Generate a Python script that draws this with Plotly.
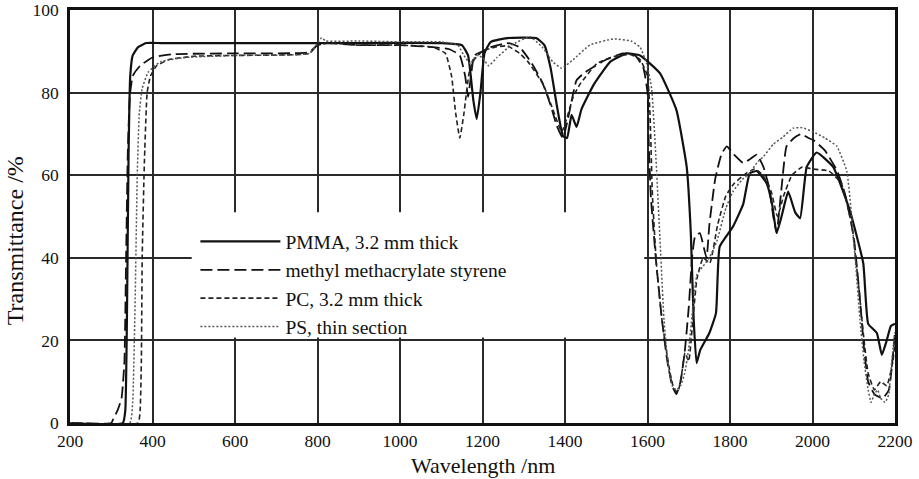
import plotly.graph_objects as go

# ---- data ----
pmma_x = [200, 328, 334, 338, 342, 346, 352, 365, 385, 420, 500, 800, 1100, 1150, 1165, 1178, 1186, 1195, 1205, 1220, 1260, 1330,
          1350, 1365, 1380, 1395, 1405, 1416, 1428, 1440, 1470, 1510, 1550, 1582, 1630, 1670, 1695, 1705, 1712, 1719, 1728,
          1750, 1766, 1775, 1807, 1832, 1848, 1865, 1889, 1902, 1913, 1925, 1941, 1958, 1970, 1986, 2010, 2050, 2090, 2123,
          2135, 2156, 2168, 2180, 2190, 2200]
pmma_y = [0, 0, 3, 25, 65, 84, 89, 91, 92, 92, 92, 92, 92, 91.5, 89, 78, 73.6, 80, 89.6, 92.3, 93.2, 93.2,
          91.5, 86, 77, 69.5, 69, 74.6, 71.7, 76, 82, 87.5, 89.5, 89, 84.7, 75.8, 62, 46, 25, 14.5, 17.7,
          21.8, 26.6, 42.7, 47.5, 53, 60.5, 61, 58, 53, 46, 50, 56, 51, 49.6, 62, 65.5, 62, 51.6, 38.7,
          24, 21.8, 16.5, 20, 23.5, 24]

mms_x = [200, 300, 305, 315, 325, 332, 336, 340, 345, 352, 370, 400, 450, 600, 780, 800, 820, 900, 1000, 1080, 1120, 1145,
         1158, 1165, 1172, 1180, 1200, 1220, 1260, 1290, 1320, 1345, 1365, 1380, 1395, 1410, 1428, 1450, 1500, 1540, 1570,
         1590, 1600, 1603, 1608, 1620, 1635, 1648, 1660, 1670, 1680, 1690, 1700, 1708, 1715, 1727, 1743, 1750, 1764, 1779,
         1792, 1810, 1832, 1850, 1865, 1881, 1895, 1905, 1913, 1925, 1937, 1955, 1973, 1990, 2002, 2030, 2060, 2080, 2100,
         2115, 2125, 2135, 2150, 2170, 2185, 2200]
mms_y = [0, 0, 1, 3, 6, 15, 40, 65, 79, 84, 86.5, 88.5, 89.3, 89.5, 89.8, 91.5, 92, 91.5, 91.5, 91, 90.5, 89,
         84, 79, 84, 89, 90, 91, 92, 91, 87, 82.5, 77, 72, 69, 75, 83, 85, 88, 89.5, 89,
         86, 80, 68, 55, 40, 25, 15, 9, 7, 10, 17, 28, 40, 45, 46, 40, 48, 59, 65,
         67, 65, 63, 64, 65, 62, 57, 50, 46, 57, 67, 69, 70, 69, 68.5, 66, 61, 55, 45,
         30, 18, 10, 7, 6, 8, 22]

pc_x = [200, 365, 370, 373, 375, 380, 387, 395, 410, 440, 500, 600, 780, 800, 830, 900, 1000, 1080, 1110, 1125, 1135,
        1145, 1155, 1168, 1180, 1200, 1230, 1260, 1290, 1310, 1347, 1371, 1392, 1405, 1420, 1436, 1477, 1517, 1560, 1582,
        1600, 1606, 1612, 1622, 1635, 1645, 1655, 1665, 1674, 1683, 1691, 1700, 1710, 1720, 1735, 1751, 1770, 1790, 1810,
        1840, 1860, 1880, 1900, 1915, 1930, 1950, 1975, 2000, 2040, 2070, 2095, 2110, 2125, 2135, 2150, 2165, 2180, 2195, 2200]
pc_y = [0, 0, 3, 15, 40, 62, 80, 84, 86.5, 88, 88.8, 89, 89.5, 91.5, 92, 91.5, 91.5, 91, 89.5, 84, 75,
        69, 75, 85, 88, 90, 91, 91.3, 89.5, 87.5, 82, 75.8, 70.5, 74, 79, 82, 87, 88.7, 89.2, 88,
        84, 75, 55, 38, 25, 18, 12, 8, 7.6, 12, 17, 15, 25, 35, 40, 38.7, 48, 55, 58,
        60.5, 61.5, 60, 56, 50, 55, 60, 62, 61.5, 61, 58, 48, 35, 20, 12, 8, 10, 9, 15, 20]

ps_x = [200, 345, 352, 358, 363, 368, 375, 390, 420, 480, 600, 780, 800, 810, 820, 900, 1000, 1100, 1140, 1155, 1170,
        1185, 1200, 1215, 1235, 1270, 1315, 1345, 1370, 1392, 1420, 1460, 1517, 1560, 1582, 1598, 1610, 1620, 1630, 1640,
        1650, 1660, 1670, 1680, 1690, 1700, 1710, 1720, 1735, 1750, 1768, 1790, 1807, 1830, 1848, 1865, 1881, 1905, 1929,
        1953, 1975, 2002, 2030, 2059, 2083, 2095, 2105, 2115, 2125, 2135, 2142, 2150, 2158, 2165, 2176, 2185, 2192, 2200]
ps_y = [0, 0, 5, 30, 60, 75, 81, 85, 87.5, 88.5, 89, 89.5, 92, 93.3, 92.5, 92.5, 92.3, 92.3, 91.5, 89, 87,
        89, 88.5, 86.5, 88.5, 91.5, 93.5, 91, 87.5, 85.9, 88, 91.5, 93, 92.5, 91, 87, 81, 65, 45, 25,
        14, 9, 8, 9, 12, 18, 28, 36, 38, 40, 44, 52, 56, 59, 60.5, 63, 64.5, 67.5, 69.3,
        71.4, 71.5, 70.5, 69, 67, 61, 50, 38, 25, 15, 8, 5, 7, 8, 6, 5, 7, 15, 22]

series_names = ["PMMA, 3.2 mm thick", "methyl methacrylate styrene", "PC, 3.2 mm thick", "PS, thin section"]
x_ticks = [200, 400, 600, 800, 1000, 1200, 1400, 1600, 1800, 2000, 2200]
y_ticks = [0, 20, 40, 60, 80, 100]

FONT = "Liberation Serif"

fig = go.Figure()
fig.add_trace(go.Scatter(x=pmma_x, y=pmma_y, mode="lines", name=series_names[0],
                         line=dict(color="#111111", width=2.2, shape="spline", smoothing=0.4)))
fig.add_trace(go.Scatter(x=mms_x, y=mms_y, mode="lines", name=series_names[1],
                         line=dict(color="#111111", width=1.8, dash="12px,5px", shape="spline", smoothing=0.4)))
fig.add_trace(go.Scatter(x=pc_x, y=pc_y, mode="lines", name=series_names[2],
                         line=dict(color="#222222", width=1.6, dash="5px,3px", shape="spline", smoothing=0.4)))
fig.add_trace(go.Scatter(x=ps_x, y=ps_y, mode="lines", name=series_names[3],
                         line=dict(color="#555555", width=1.5, dash="2px,2px", shape="spline", smoothing=0.4)))

axis_common = dict(showgrid=True, gridcolor="#2a2a2a", gridwidth=1.6, zeroline=False,
                   showline=True, linecolor="#111111", linewidth=2.5, mirror=True,
                   automargin=False,
                   ticks="", tickfont=dict(family=FONT, size=17.5, color="#111111"))

fig.update_xaxes(range=[200, 2200], tickvals=x_ticks, ticktext=[str(v) for v in x_ticks],
                 ticklabelstandoff=0, **axis_common)
fig.update_yaxes(range=[0, 100], tickvals=y_ticks, ticktext=[str(v) for v in y_ticks],
                 ticklabelstandoff=5, **axis_common)

# white box behind the legend hides the grid lines there
fig.add_shape(type="rect", xref="x", yref="y", x0=495, x1=1592, y0=20.7, y1=51,
              fillcolor="white", line=dict(width=0), layer="between")

fig.add_annotation(text="Wavelength /nm", xref="paper", yref="paper", x=0.5, y=0,
                   yshift=-42, yanchor="middle", showarrow=False,
                   font=dict(family=FONT, size=22, color="#111111"))
fig.add_annotation(text="Transmittance /%", xref="paper", yref="paper", x=0, y=0.44,
                   xshift=-55, textangle=-90, xanchor="center", showarrow=False,
                   font=dict(family=FONT, size=24, color="#111111"))

fig.update_layout(
    width=919, height=479,
    margin=dict(l=70, r=24, t=10, b=56),
    paper_bgcolor="white", plot_bgcolor="white",
    showlegend=True,
    legend=dict(x=0.152, y=0.486, xanchor="left", yanchor="top",
                bgcolor="rgba(0,0,0,0)", itemwidth=80,
                font=dict(family=FONT, size=19.5, color="#111111"),
                tracegroupgap=0),
)

# remove the default 8px page margin so the figure fills the window exactly
fig.write_html("out.html", config={"displayModeBar": False},
               post_script="document.body.style.margin='0px';")
